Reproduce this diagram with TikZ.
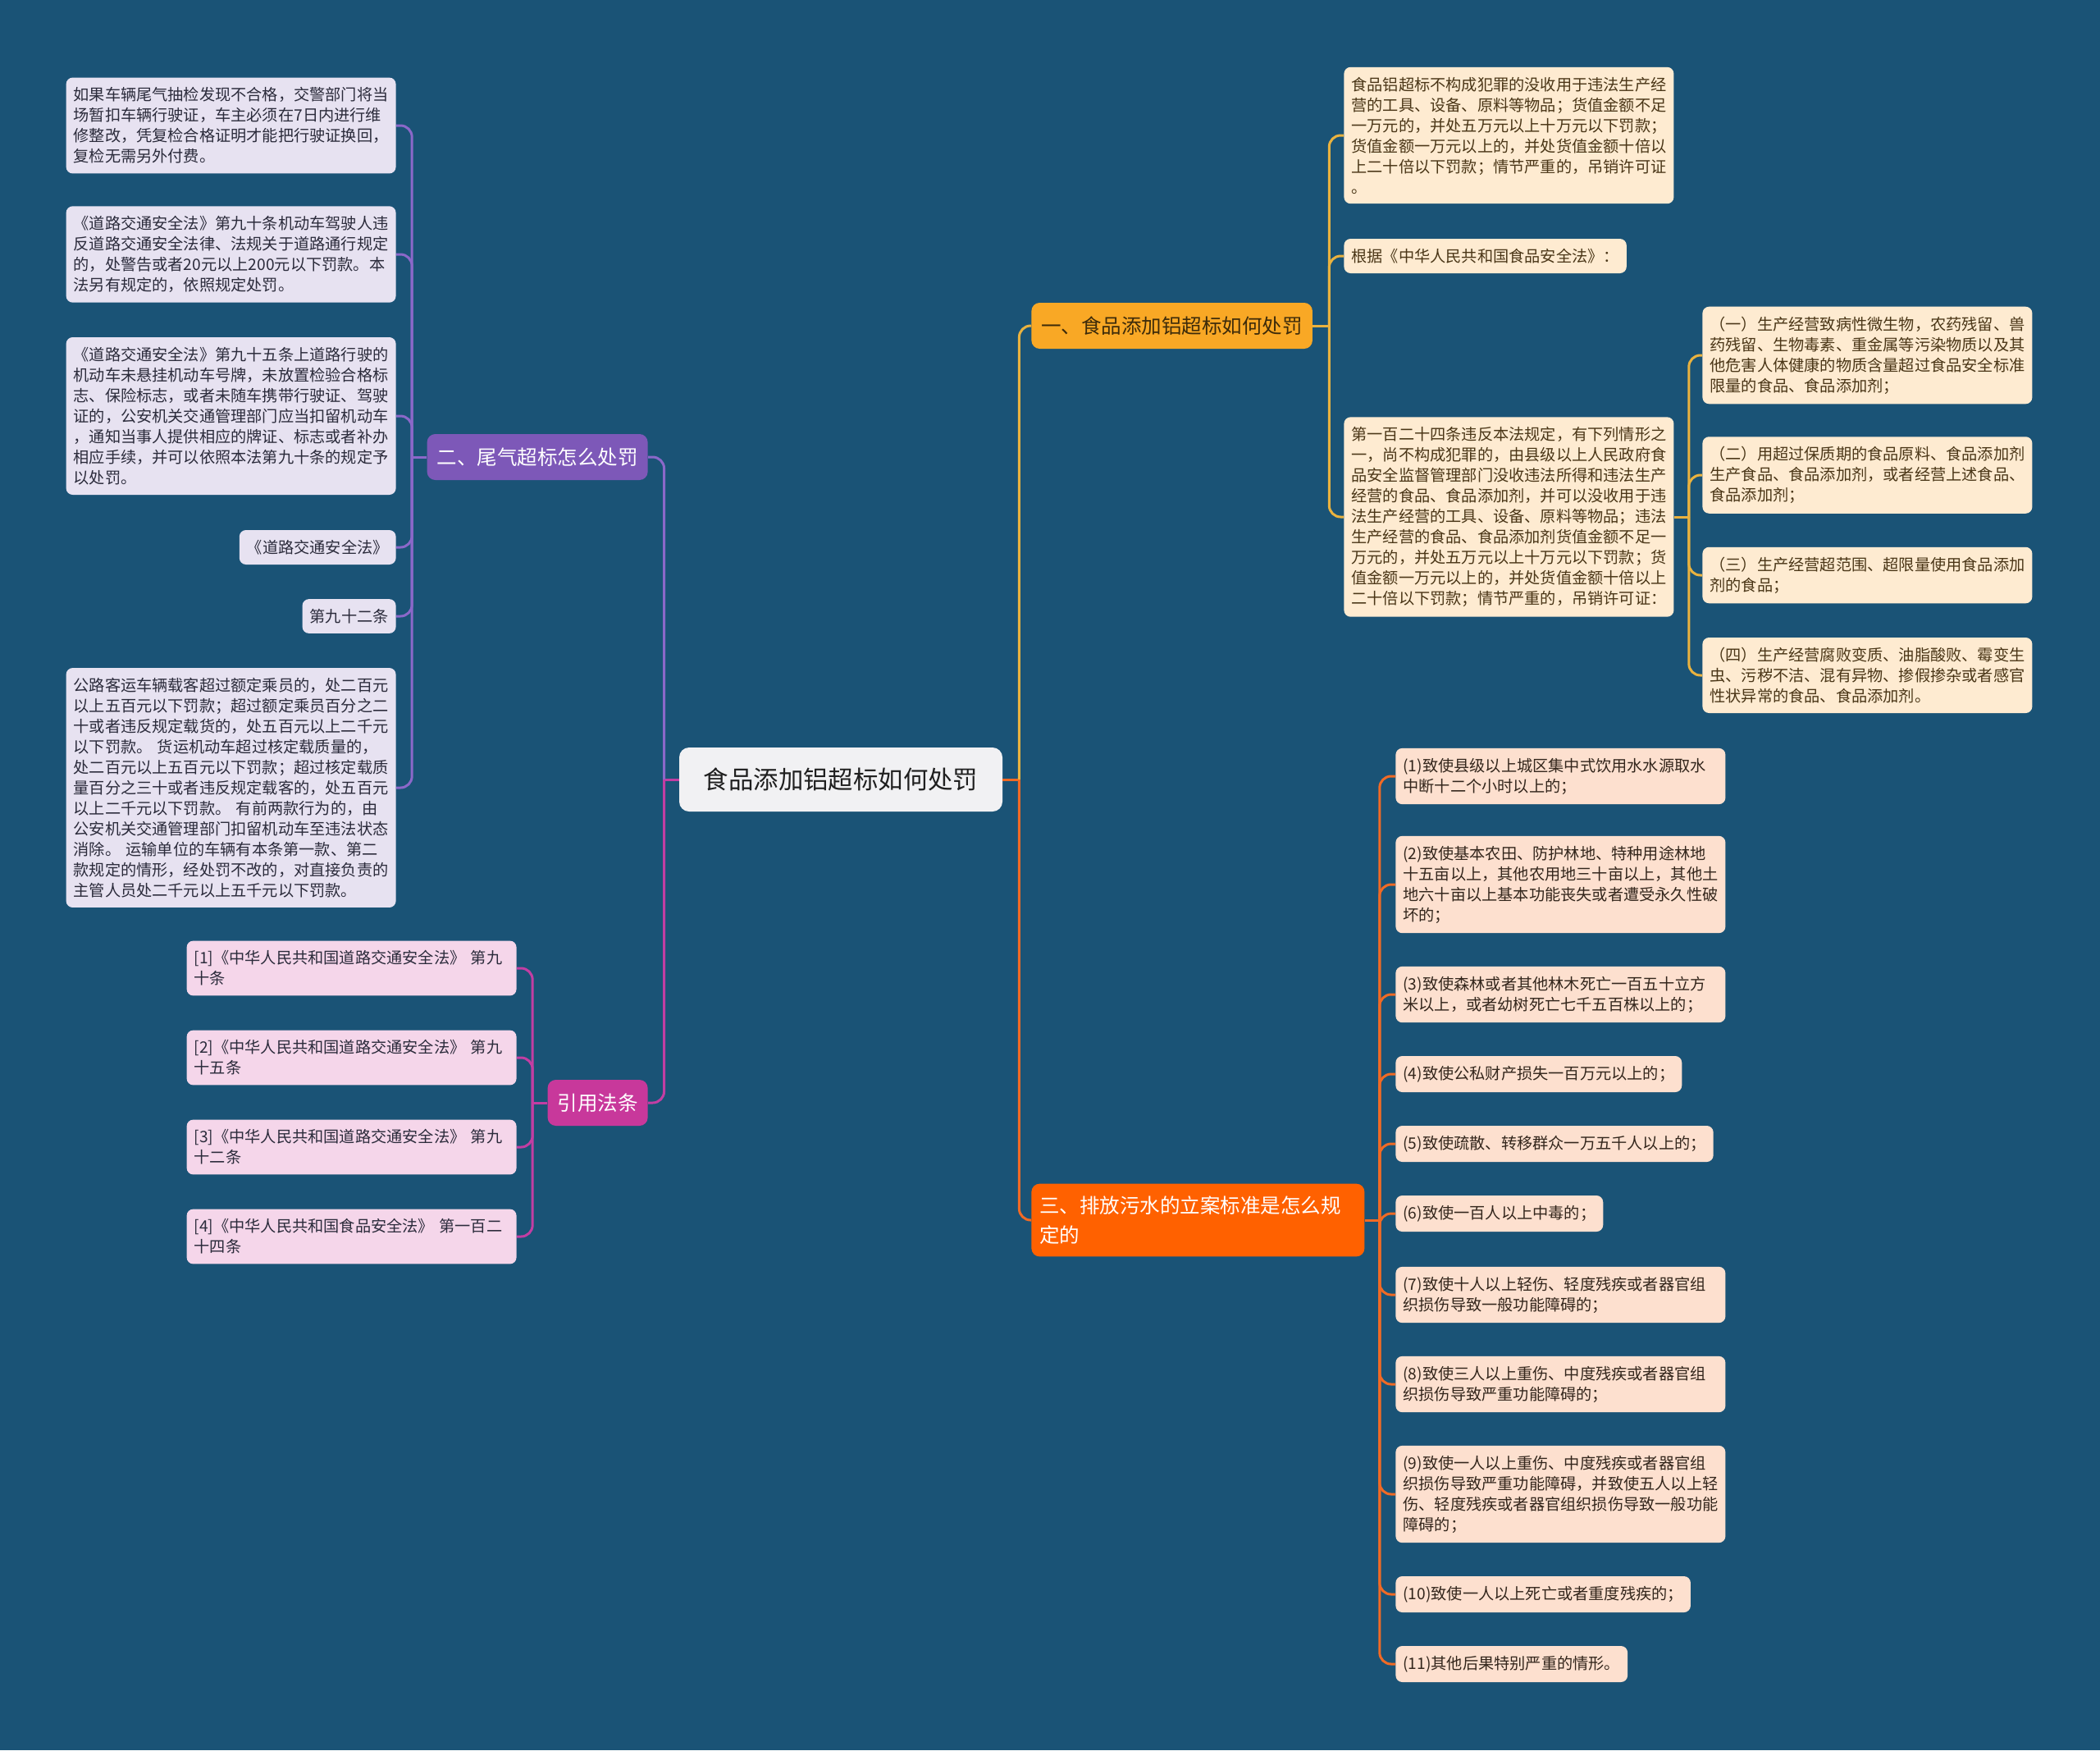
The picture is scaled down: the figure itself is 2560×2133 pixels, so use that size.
\documentclass[tikz,border=0pt]{standalone}
\usepackage{fontspec}
\setmainfont{Noto Sans CJK SC}
\usepackage{xcolor}
\usepackage{tikz}
\usetikzlibrary{positioning}
\definecolor{mapbg}{HTML}{1A5376}
\definecolor{rootfill}{HTML}{F1F1F3}
\definecolor{rootink}{HTML}{1F1F1F}
\definecolor{foodgold}{HTML}{F9A825}
\definecolor{foodink}{HTML}{3D2B0A}
\definecolor{foodline}{HTML}{E9B23F}
\definecolor{foodleaf}{HTML}{FEEBD1}
\definecolor{foodtext}{HTML}{4A3617}
\definecolor{waterred}{HTML}{FF6100}
\definecolor{waterline}{HTML}{F06A25}
\definecolor{waterleaf}{HTML}{FDE0CF}
\definecolor{watertext}{HTML}{33261C}
\definecolor{exhaustpurple}{HTML}{7D58B8}
\definecolor{exhaustline}{HTML}{8B68C9}
\definecolor{exhaustleaf}{HTML}{E7E2F1}
\definecolor{exhausttext}{HTML}{2B2B3B}
\definecolor{lawpink}{HTML}{C8389B}
\definecolor{lawline}{HTML}{C23EA3}
\definecolor{lawleaf}{HTML}{F5D6EA}

\begin{document}
\begin{tikzpicture}[
  x=0.5pt, y=-0.5pt,
  leaf/.style={fill=#1, rounded corners=4pt, align=left, inner xsep=4.5pt, inner ysep=6pt,
    font=\fontsize{9.6}{12.5}\selectfont},
  wide/.style={text width=192pt},
  branch/.style={fill=#1, rounded corners=5pt, align=left, inner xsep=6pt, inner ysep=4pt,
    minimum height=28pt, font=\fontsize{12.25}{14.5}\selectfont},
  link/.style={line width=1.5pt, draw=#1, rounded corners=7pt}
]
\useasboundingbox (0,0) rectangle (2560,2133);
\fill[mapbg] (0,0) rectangle (2560,2133);

% Central topic
\node[fill=rootfill, text=rootink, rounded corners=6pt, minimum width=197pt, minimum height=39pt,
  font=\fontsize{15.2}{18}\selectfont] (root) at (1025,950) {食品添加铝超标如何处罚};

% Main branches
\node[branch=foodgold, text=foodink, anchor=west] (food) at (1257,397) {一、食品添加铝超标如何处罚};
\node[branch=waterred, text=white, anchor=west, text width=193pt, inner xsep=5pt, inner ysep=7.5pt,
  font=\fontsize{12.25}{18}\selectfont] (water) at (1257,1487)
  {三、排放污水的立案标准是怎么规\\定的};
\node[branch=exhaustpurple, text=white, anchor=east] (exhaust) at (790,557) {二、尾气超标怎么处罚};
\node[branch=lawpink, text=white, anchor=east] (law) at (790,1344) {引用法条};

\coordinate (jr) at ([xshift=10pt]root.east);
\coordinate (jl) at ([xshift=-9pt]root.west);
\draw[link=waterline] (root.east) -- (jr);
\draw[link=foodline] (jr) |- (food.west);
\draw[link=waterline] (jr) |- (water.west);
\draw[link=lawline] (root.west) -- (jl);
\draw[link=exhaustline] (jl) |- (exhaust.east);
\draw[link=lawline] (jl) |- (law.east);

% Branch 二: exhaust
\node[leaf=exhaustleaf, text=exhausttext, wide, anchor=east] (ex1) at (483,153)
  {如果车辆尾气抽检发现不合格，交警部门将当\\场暂扣车辆行驶证，车主必须在7日内进行维\\修整改，凭复检合格证明才能把行驶证换回，\\复检无需另外付费。};
\node[leaf=exhaustleaf, text=exhausttext, wide, anchor=east] (ex2) at (483,310)
  {《道路交通安全法》第九十条机动车驾驶人违\\反道路交通安全法律、法规关于道路通行规定\\的，处警告或者20元以上200元以下罚款。本\\法另有规定的，依照规定处罚。};
\node[leaf=exhaustleaf, text=exhausttext, wide, anchor=east] (ex3) at (483,507)
  {《道路交通安全法》第九十五条上道路行驶的\\机动车未悬挂机动车号牌，未放置检验合格标\\志、保险标志，或者未随车携带行驶证、驾驶\\证的，公安机关交通管理部门应当扣留机动车\\，通知当事人提供相应的牌证、标志或者补办\\相应手续，并可以依照本法第九十条的规定予\\以处罚。};
\node[leaf=exhaustleaf, text=exhausttext, anchor=east] (ex4) at (483,667) {《道路交通安全法》};
\node[leaf=exhaustleaf, text=exhausttext, anchor=east] (ex5) at (483,751) {第九十二条};
\node[leaf=exhaustleaf, text=exhausttext, wide, anchor=east] (ex6) at (483,960)
  {公路客运车辆载客超过额定乘员的，处二百元\\以上五百元以下罚款；超过额定乘员百分之二\\十或者违反规定载货的，处五百元以上二千元\\以下罚款。 货运机动车超过核定载质量的，\\处二百元以上五百元以下罚款；超过核定载质\\量百分之三十或者违反规定载客的，处五百元\\以上二千元以下罚款。 有前两款行为的，由\\公安机关交通管理部门扣留机动车至违法状态\\消除。 运输单位的车辆有本条第一款、第二\\款规定的情形，经处罚不改的，对直接负责的\\主管人员处二千元以上五千元以下罚款。};
\coordinate (jex) at ([xshift=-9pt]exhaust.west);
\draw[link=exhaustline] (exhaust.west) -- (jex);
\foreach \n in {ex1,ex2,ex3,ex4,ex5,ex6}
  \draw[link=exhaustline] (jex) |- (\n.east);

% Branch: cited laws
\node[leaf=lawleaf, text=exhausttext, wide, anchor=east] (lw1) at (630,1180)
  {[1]《中华人民共和国道路交通安全法》 第九\\十条};
\node[leaf=lawleaf, text=exhausttext, wide, anchor=east] (lw2) at (630,1289)
  {[2]《中华人民共和国道路交通安全法》 第九\\十五条};
\node[leaf=lawleaf, text=exhausttext, wide, anchor=east] (lw3) at (630,1398)
  {[3]《中华人民共和国道路交通安全法》 第九\\十二条};
\node[leaf=lawleaf, text=exhausttext, wide, anchor=east] (lw4) at (630,1507)
  {[4]《中华人民共和国食品安全法》 第一百二\\十四条};
\coordinate (jlw) at ([xshift=-9pt]law.west);
\draw[link=lawline] (law.west) -- (jlw);
\foreach \n in {lw1,lw2,lw3,lw4}
  \draw[link=lawline] (jlw) |- (\n.east);

% Branch 一: food
\node[leaf=foodleaf, text=foodtext, wide, anchor=west] (fd1) at (1638,165)
  {食品铝超标不构成犯罪的没收用于违法生产经\\营的工具、设备、原料等物品；货值金额不足\\一万元的，并处五万元以上十万元以下罚款；\\货值金额一万元以上的，并处货值金额十倍以\\上二十倍以下罚款；情节严重的，吊销许可证\\。};
\node[leaf=foodleaf, text=foodtext, anchor=west] (fd2) at (1638,312) {根据《中华人民共和国食品安全法》：};
\node[leaf=foodleaf, text=foodtext, wide, anchor=west] (fd3) at (1638,630)
  {第一百二十四条违反本法规定，有下列情形之\\一，尚不构成犯罪的，由县级以上人民政府食\\品安全监督管理部门没收违法所得和违法生产\\经营的食品、食品添加剂，并可以没收用于违\\法生产经营的工具、设备、原料等物品；违法\\生产经营的食品、食品添加剂货值金额不足一\\万元的，并处五万元以上十万元以下罚款；货\\值金额一万元以上的，并处货值金额十倍以上\\二十倍以下罚款；情节严重的，吊销许可证：};
\coordinate (jfd) at ([xshift=10pt]food.east);
\draw[link=foodline] (food.east) -- (jfd);
\foreach \n in {fd1,fd2,fd3}
  \draw[link=foodline] (jfd) |- (\n.west);

% Article 124 items
\node[leaf=foodleaf, text=foodtext, wide, anchor=west] (it1) at (2075,433)
  {（一）生产经营致病性微生物，农药残留、兽\\药残留、生物毒素、重金属等污染物质以及其\\他危害人体健康的物质含量超过食品安全标准\\限量的食品、食品添加剂；};
\node[leaf=foodleaf, text=foodtext, wide, anchor=west] (it2) at (2075,579)
  {（二）用超过保质期的食品原料、食品添加剂\\生产食品、食品添加剂，或者经营上述食品、\\食品添加剂；};
\node[leaf=foodleaf, text=foodtext, wide, anchor=west] (it3) at (2075,701)
  {（三）生产经营超范围、超限量使用食品添加\\剂的食品；};
\node[leaf=foodleaf, text=foodtext, wide, anchor=west] (it4) at (2075,823)
  {（四）生产经营腐败变质、油脂酸败、霉变生\\虫、污秽不洁、混有异物、掺假掺杂或者感官\\性状异常的食品、食品添加剂。};
\coordinate (jit) at ([xshift=9pt]fd3.east);
\draw[link=foodline] (fd3.east) -- (jit);
\foreach \n in {it1,it2,it3,it4}
  \draw[link=foodline] (jit) |- (\n.west);

% Branch 三: sewage criteria
\node[leaf=waterleaf, text=watertext, wide, anchor=west] (ws1) at (1701,946)
  {(1)致使县级以上城区集中式饮用水水源取水\\中断十二个小时以上的；};
\node[leaf=waterleaf, text=watertext, wide, anchor=west] (ws2) at (1701,1078)
  {(2)致使基本农田、防护林地、特种用途林地\\十五亩以上，其他农用地三十亩以上，其他土\\地六十亩以上基本功能丧失或者遭受永久性破\\坏的；};
\node[leaf=waterleaf, text=watertext, wide, anchor=west] (ws3) at (1701,1212)
  {(3)致使森林或者其他林木死亡一百五十立方\\米以上，或者幼树死亡七千五百株以上的；};
\node[leaf=waterleaf, text=watertext, anchor=west] (ws4) at (1701,1309) {(4)致使公私财产损失一百万元以上的；};
\node[leaf=waterleaf, text=watertext, anchor=west] (ws5) at (1701,1394) {(5)致使疏散、转移群众一万五千人以上的；};
\node[leaf=waterleaf, text=watertext, anchor=west] (ws6) at (1701,1479) {(6)致使一百人以上中毒的；};
\node[leaf=waterleaf, text=watertext, wide, anchor=west] (ws7) at (1701,1578)
  {(7)致使十人以上轻伤、轻度残疾或者器官组\\织损伤导致一般功能障碍的；};
\node[leaf=waterleaf, text=watertext, wide, anchor=west] (ws8) at (1701,1687)
  {(8)致使三人以上重伤、中度残疾或者器官组\\织损伤导致严重功能障碍的；};
\node[leaf=waterleaf, text=watertext, wide, anchor=west] (ws9) at (1701,1821)
  {(9)致使一人以上重伤、中度残疾或者器官组\\织损伤导致严重功能障碍，并致使五人以上轻\\伤、轻度残疾或者器官组织损伤导致一般功能\\障碍的；};
\node[leaf=waterleaf, text=watertext, anchor=west] (ws10) at (1701,1943) {(10)致使一人以上死亡或者重度残疾的；};
\node[leaf=waterleaf, text=watertext, anchor=west] (ws11) at (1701,2028) {(11)其他后果特别严重的情形。};
\coordinate (jws) at ([xshift=9pt]water.east);
\draw[link=waterline] (water.east) -- (jws);
\foreach \n in {ws1,ws2,ws3,ws4,ws5,ws6,ws7,ws8,ws9,ws10,ws11}
  \draw[link=waterline] (jws) |- (\n.west);

\end{tikzpicture}
\end{document}
